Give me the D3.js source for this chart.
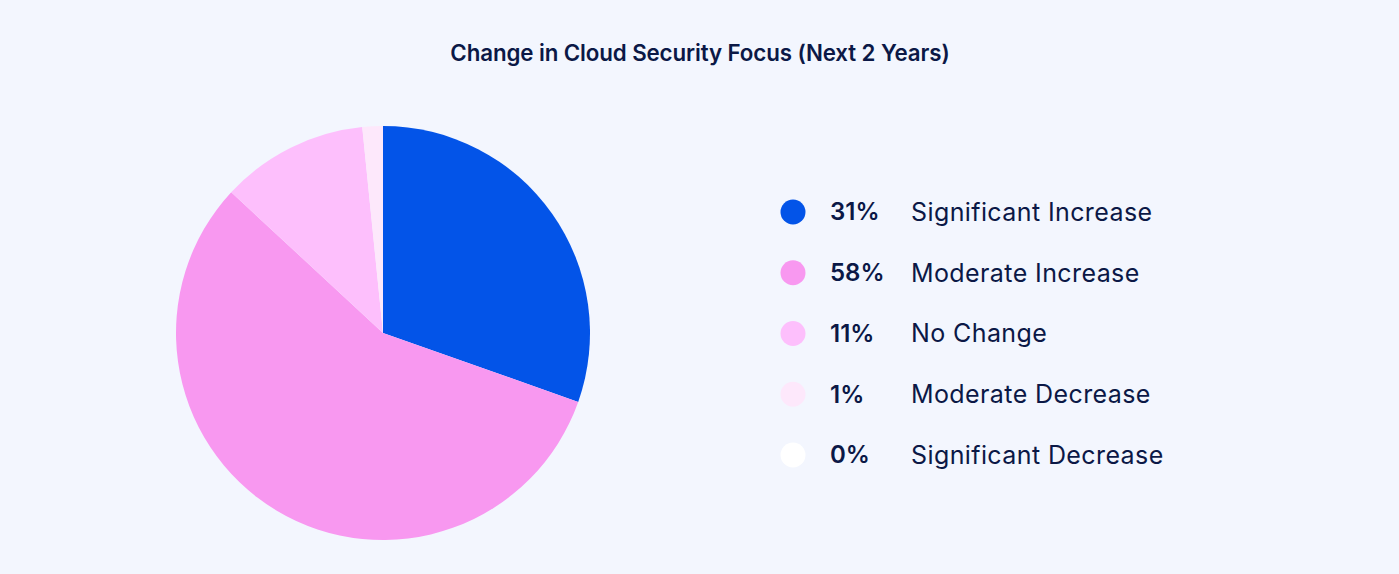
<!DOCTYPE html>
<html>
<head>
<meta charset="utf-8">
<script src="https://cdn.jsdelivr.net/npm/d3@7"></script>
<style>
  html, body { margin: 0; padding: 0; background: #f3f6fe; }
  svg { display: block; }
</style>
</head>
<body>
<svg id="chart" width="1399" height="574"></svg>
<script>
const title = "Change in Cloud Security Focus (Next 2 Years)";
const categories = ["Significant Increase", "Moderate Increase", "No Change", "Moderate Decrease", "Significant Decrease"];
const values = [30.4, 56.5, 11.5, 1.6, 0];
const percentLabels = ["31%", "58%", "11%", "1%", "0%"];
const colors = ["#0354e8", "#f898f0", "#fdbffc", "#fde8fb", "#ffffff"];

const W = 1399, H = 574;
const svg = d3.select("#chart");
const font = "Inter, 'Open Sans', sans-serif";
const textColor = "#0b1846";

svg.append("rect").attr("width", W).attr("height", H).attr("fill", "#f3f6fe");

svg.append("text")
  .attr("x", 700).attr("y", 61)
  .attr("text-anchor", "middle")
  .attr("font-family", font)
  .attr("font-size", 22.3)
  .attr("font-weight", 600)
  .attr("letter-spacing", -0.1)
  .attr("fill", textColor)
  .text(title);

const cx = 383, cy = 333, r = 207;
const pie = d3.pie().sort(null).value(d => d.value);
const arc = d3.arc().innerRadius(0).outerRadius(r);
const data = categories.map((c, i) => ({ name: c, value: values[i], color: colors[i] }));

const g = svg.append("g").attr("transform", `translate(${cx},${cy})`);
g.selectAll("path")
  .data(pie(data))
  .join("path")
  .attr("d", arc)
  .attr("fill", d => d.data.color);

const legendY = d3.scalePoint().domain(categories).range([212, 455]);
const lg = svg.append("g");
const rows = lg.selectAll("g").data(data).join("g")
  .attr("transform", d => `translate(0,${legendY(d.name)})`);
rows.append("circle").attr("cx", 793).attr("cy", 0).attr("r", 12.5).attr("fill", d => d.color);
rows.append("text")
  .attr("x", 830).attr("y", 0).attr("dy", "0.35em")
  .attr("font-family", font).attr("font-size", 24).attr("font-weight", 600)
  .attr("fill", textColor)
  .text((d, i) => percentLabels[i]);
rows.append("text")
  .attr("x", 911).attr("y", 0).attr("dy", "0.35em")
  .attr("font-family", font).attr("font-size", 25).attr("font-weight", 400)
  .attr("letter-spacing", 0.4)
  .attr("fill", textColor)
  .text(d => d.name);
</script>
</body>
</html>
